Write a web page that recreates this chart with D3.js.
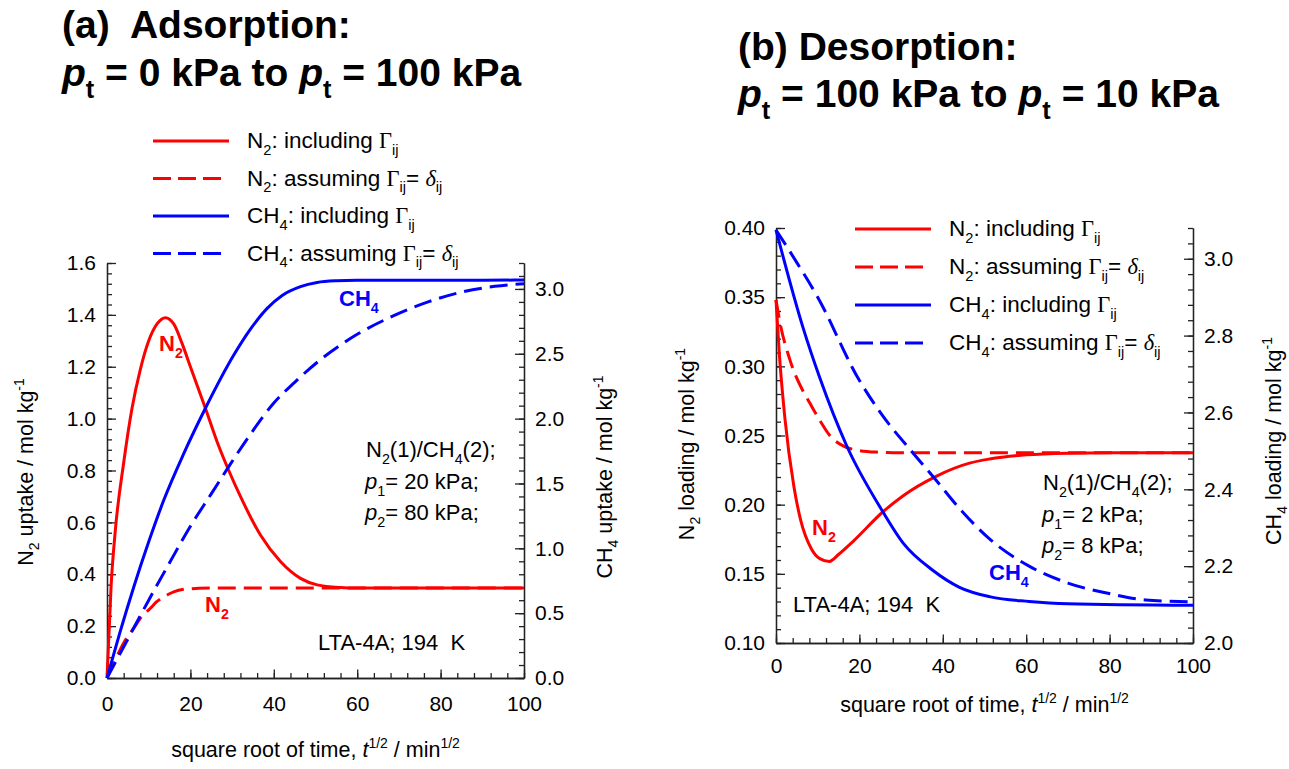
<!DOCTYPE html>
<html>
<head>
<meta charset="utf-8">
<script src="https://cdn.jsdelivr.net/npm/d3@7"></script>
<style>
  body { margin: 0; background: #fff; }
  svg text { font-family: Arial, "Liberation Sans", Helvetica, sans-serif; fill: #000; }
  .axis path, .axis line { stroke: #222; stroke-width: 1.3px; }
  .axis text { font-size: 21px; }
</style>
</head>
<body>
<div id="chart"></div>
<script>
// ---------- (a) adsorption ----------
var n2InclTimeA = [0, 1, 2, 4, 6, 8, 10, 12, 14, 16, 18, 20, 23.6, 26.4, 29.2, 32, 36.8, 41.6, 46.4, 50.4, 56, 60, 100];
var n2InclA     = [0, 0.36, 0.57, 0.83, 1.04, 1.19, 1.3, 1.365, 1.389, 1.365, 1.29, 1.2, 1.04, 0.911, 0.8, 0.7, 0.551, 0.449, 0.384, 0.359, 0.349, 0.347, 0.347];

var n2DeltaTimeA = [0, 2, 4, 6.4, 8, 10.4, 12, 14.4, 16, 18.4, 20, 22, 25, 100];
var n2DeltaA     = [0, 0.07, 0.135, 0.192, 0.23, 0.269, 0.295, 0.32, 0.332, 0.342, 0.344, 0.346, 0.347, 0.347];

var ch4InclTimeA = [0, 3, 6.4, 10, 13.6, 18.4, 23.6, 30.4, 34.4, 38.4, 42, 46.4, 50.4, 55, 60, 100];
var ch4InclA     = [0, 0.34, 0.7, 1.05, 1.37, 1.73, 2.08, 2.49, 2.69, 2.85, 2.95, 3.018, 3.05, 3.063, 3.067, 3.068];

var ch4DeltaTimeA = [0, 5, 10, 15.2, 20, 25, 29.2, 34.4, 40, 45, 51.4, 60, 68.5, 77, 85.6, 93, 100];
var ch4DeltaA     = [0, 0.3, 0.6, 0.9, 1.17, 1.42, 1.63, 1.88, 2.12, 2.28, 2.46, 2.65, 2.79, 2.9, 2.98, 3.02, 3.04];

// ---------- (b) desorption ----------
var n2InclTimeB = [0, 0.8, 2.15, 4.3, 5.9, 8.5, 10.5, 12.8, 15, 18.5, 25.6, 30.5, 38.4, 46.4, 51.2, 60, 70, 80, 100];
var n2InclB     = [0.348, 0.309, 0.262, 0.213, 0.189, 0.168, 0.161, 0.159, 0.164, 0.1735, 0.1947, 0.2065, 0.2205, 0.23, 0.233, 0.236, 0.2372, 0.2375, 0.2375];

var n2DeltaTimeB = [0, 1, 3.3, 6.5, 8, 10.5, 12.9, 16.1, 19.3, 24, 30, 100];
var n2DeltaB     = [0.348, 0.331, 0.305, 0.282, 0.274, 0.261, 0.25, 0.2425, 0.2395, 0.238, 0.2376, 0.2375];

var ch4InclTimeB = [0, 6.5, 10.5, 17, 25.6, 30.5, 37.5, 44, 51.4, 60.7, 70, 100];
var ch4InclB     = [3.075, 2.82, 2.69, 2.512, 2.342, 2.26, 2.19, 2.145, 2.12, 2.108, 2.102, 2.098];

var ch4DeltaTimeB = [0, 5, 10, 19.8, 25, 32.8, 37.9, 44, 51.4, 60.7, 70, 79.3, 88.6, 100];
var ch4DeltaB     = [3.075, 2.99, 2.9, 2.687, 2.6, 2.495, 2.43, 2.35, 2.269, 2.2, 2.156, 2.13, 2.112, 2.107];

// x ticks shared by both panels
var xMajorTicks = [0, 20, 40, 60, 80, 100];

var SERIF = "'Times New Roman', 'Liberation Serif', serif";
var RED = "#ff0000", BLUE = "#0000ff";
var TEXT_SIZE = 22, LEGEND_SIZE = 22.5, TITLE_SIZE = 21.5;

// text with sub/superscripts: parts = [[string, kind], ...]
function richText(parent, x, y, parts, size) {
    var text = parent.append("text")
        .attr("x", x)
        .attr("y", y)
        .attr("font-size", size);
    var shift = 0;
    parts.forEach(function(p){
        var kind = p[1] || "";
        var target = 0;
        if (kind.indexOf("sub") >= 0) target = size * 0.3;
        if (kind.indexOf("sup") >= 0) target = -size * 0.42;
        var span = text.append("tspan").text(p[0]);
        if (target !== shift) span.attr("dy", target - shift);
        if (target !== 0) span.attr("font-size", size * 0.65);
        if (kind.indexOf("it") >= 0) span.attr("font-style", "italic");
        if (kind.indexOf("serif") >= 0) span.attr("font-family", SERIF);
        shift = target;
    });
    return text;
}

function stepTicks(domain, step) {
    var n = Math.floor((domain[1] - domain[0]) / step + 1e-6);
    return d3.range(n + 1).map(function(i){ return domain[0] + i * step; });
}

KineticsChart = function(_svg, _config){
    this.svg = _svg;
    this.config = _config;
    this.initVis();
};

KineticsChart.prototype.initVis = function(){
    var vis = this;
    var c = vis.config;

    vis.g = vis.svg.append("g");

    // Scales
    vis.x = d3.scaleLinear().domain([0, 100]).range([c.left, c.right]);
    vis.yL = d3.scaleLinear().domain(c.yLeft.domain).range([c.bottom, c.top]);
    vis.yR = d3.scaleLinear().domain(c.yRight.domain).range([c.bottom, c.top]);

    // X-axis (minor then major)
    vis.g.append("g")
        .attr("class", "axis")
        .attr("transform", "translate(0," + c.bottom + ")")
        .call(d3.axisBottom(vis.x).tickValues(d3.range(0, 101, 4))
            .tickSize(-5).tickSizeOuter(0).tickFormat(""));
    vis.g.append("g")
        .attr("class", "axis")
        .attr("transform", "translate(0," + c.bottom + ")")
        .call(d3.axisBottom(vis.x).tickValues(xMajorTicks)
            .tickSize(-8.5).tickSizeOuter(0).tickPadding(c.xPad).tickFormat(d3.format("d")));

    // Left y-axis
    vis.g.append("g")
        .attr("class", "axis")
        .attr("transform", "translate(" + c.left + ",0)")
        .call(d3.axisLeft(vis.yL).tickValues(stepTicks(c.yLeft.domain, c.yLeft.minor))
            .tickSize(-5).tickSizeOuter(0).tickFormat(""));
    vis.g.append("g")
        .attr("class", "axis")
        .attr("transform", "translate(" + c.left + ",0)")
        .call(d3.axisLeft(vis.yL).tickValues(stepTicks(c.yLeft.domain, c.yLeft.major))
            .tickSize(-9).tickSizeOuter(0).tickPadding(11).tickFormat(d3.format(c.yLeft.format)));

    // Right y-axis
    vis.g.append("g")
        .attr("class", "axis")
        .attr("transform", "translate(" + c.right + ",0)")
        .call(d3.axisRight(vis.yR).tickValues(stepTicks(c.yRight.domain, c.yRight.minor))
            .tickSize(-5).tickSizeOuter(0).tickFormat(""));
    vis.g.append("g")
        .attr("class", "axis")
        .attr("transform", "translate(" + c.right + ",0)")
        .call(d3.axisRight(vis.yR).tickValues(stepTicks(c.yRight.domain, c.yRight.major))
            .tickSize(-9).tickSizeOuter(0).tickPadding(11).tickFormat(d3.format(c.yRight.format)));

    vis.updateVis();
};

KineticsChart.prototype.updateVis = function(){
    var vis = this;
    var c = vis.config;

    // Curves
    c.series.forEach(function(s){
        var yScale = (s.axis == "right") ? vis.yR : vis.yL;
        var line = d3.line()
            .x(function(d){ return vis.x(d[0]); })
            .y(function(d){ return yScale(d[1]); })
            .curve(d3.curveMonotoneX);
        vis.g.append("path")
            .attr("fill", "none")
            .attr("stroke", s.color)
            .attr("stroke-width", 3)
            .attr("stroke-dasharray", s.dashed ? "18,8" : null)
            .attr("d", line(d3.zip(s.times, s.values)));
    });

    // Legend
    c.series.forEach(function(s, i){
        var ly = c.legend.y + i * c.legend.dy;
        vis.g.append("line")
            .attr("x1", c.legend.x)
            .attr("x2", c.legend.x + (s.dashed ? 68 : 76))
            .attr("y1", ly).attr("y2", ly)
            .attr("stroke", s.color)
            .attr("stroke-width", 3)
            .attr("stroke-dasharray", s.dashed ? "18,7" : null);
        richText(vis.g, c.legend.x + 94, ly + 7, s.label, LEGEND_SIZE);
    });

    // Axis titles
    richText(vis.g, (c.left + c.right) / 2, c.xTitleY, [["square root of time, "], ["t", "it"],
        ["1/2", "sup"], [" / min"], ["1/2", "sup"]], TITLE_SIZE)
        .attr("text-anchor", "middle");
    richText(vis.g, 0, 0, c.yLeftTitle, TITLE_SIZE)
        .attr("text-anchor", "middle")
        .attr("transform", "translate(" + c.yLeftTitlePos + ") rotate(-90)");
    richText(vis.g, 0, 0, c.yRightTitle, TITLE_SIZE)
        .attr("text-anchor", "middle")
        .attr("transform", "translate(" + c.yRightTitlePos + ") rotate(-90)");

    // Panel title
    richText(vis.g, c.titleX, c.titleY[0], c.title[0], 39).attr("font-weight", "bold");
    richText(vis.g, c.titleX, c.titleY[1], c.title[1], 39).attr("font-weight", "bold");

    // Notes and curve labels
    c.notes.forEach(function(n){
        var t = richText(vis.g, n.x, n.y, n.parts, TEXT_SIZE);
        if (n.color) t.attr("font-weight", "bold").style("fill", n.color);
    });
};

function legendLabels(){
    return [
        [["N"], ["2", "sub"], [": including "], ["\u0393", "serif"], ["ij", "sub"]],
        [["N"], ["2", "sub"], [": assuming "], ["\u0393", "serif"], ["ij", "sub"], ["= "], ["\u03b4", "serif it"], ["ij", "sub"]],
        [["CH"], ["4", "sub"], [": including "], ["\u0393", "serif"], ["ij", "sub"]],
        [["CH"], ["4", "sub"], [": assuming "], ["\u0393", "serif"], ["ij", "sub"], ["= "], ["\u03b4", "serif it"], ["ij", "sub"]]
    ];
}

var svg = d3.select("#chart").append("svg")
    .attr("width", 1289)
    .attr("height", 769);

var labs = legendLabels();

var chartA = new KineticsChart(svg, {
    left: 107, right: 524, top: 263, bottom: 678,
    xPad: 18, xTitleY: 757,
    yLeft: { domain: [0, 1.6], major: 0.2, minor: 0.04, format: ".1f" },
    yRight: { domain: [0, 3.2], major: 0.5, minor: 0.1, format: ".1f" },
    yLeftTitle: [["N"], ["2", "sub"], [" uptake / mol kg"], ["-1", "sup"]],
    yLeftTitlePos: "33,472",
    yRightTitle: [["CH"], ["4", "sub"], [" uptake / mol kg"], ["-1", "sup"]],
    yRightTitlePos: "612,477",
    title: [[["(a)\u00a0 Adsorption:"]],
            [["p", "it"], ["t", "sub"], [" = 0 kPa to "], ["p", "it"], ["t", "sub"], [" = 100 kPa"]]],
    titleX: 62, titleY: [38, 86],
    legend: { x: 153, y: 141, dy: 37.5 },
    series: [
        { times: n2InclTimeA, values: n2InclA, axis: "left", color: RED, dashed: false, label: labs[0] },
        { times: n2DeltaTimeA, values: n2DeltaA, axis: "left", color: RED, dashed: true, label: labs[1] },
        { times: ch4InclTimeA, values: ch4InclA, axis: "right", color: BLUE, dashed: false, label: labs[2] },
        { times: ch4DeltaTimeA, values: ch4DeltaA, axis: "right", color: BLUE, dashed: true, label: labs[3] }
    ],
    notes: [
        { x: 366, y: 457, parts: [["N"], ["2", "sub"], ["(1)/CH"], ["4", "sub"], ["(2);"]] },
        { x: 365, y: 489, parts: [["p", "it"], ["1", "sub"], ["= 20 kPa;"]] },
        { x: 365, y: 520, parts: [["p", "it"], ["2", "sub"], ["= 80 kPa;"]] },
        { x: 318, y: 650, parts: [["LTA-4A; 194\u00a0 K"]] },
        { x: 159, y: 351, parts: [["N"], ["2", "sub"]], color: RED },
        { x: 205, y: 612, parts: [["N"], ["2", "sub"]], color: RED },
        { x: 339, y: 306, parts: [["CH"], ["4", "sub"]], color: BLUE }
    ]
});

var chartB = new KineticsChart(svg, {
    left: 776, right: 1193, top: 228, bottom: 643,
    xPad: 15, xTitleY: 712,
    yLeft: { domain: [0.1, 0.4], major: 0.05, minor: 0.01, format: ".2f" },
    yRight: { domain: [2.0, 3.08], major: 0.2, minor: 0.04, format: ".1f" },
    yLeftTitle: [["N"], ["2", "sub"], [" loading / mol kg"], ["-1", "sup"]],
    yLeftTitlePos: "694,444",
    yRightTitle: [["CH"], ["4", "sub"], [" loading / mol kg"], ["-1", "sup"]],
    yRightTitlePos: "1281,441",
    title: [[["(b) Desorption:"]],
            [["p", "it"], ["t", "sub"], [" = 100 kPa to "], ["p", "it"], ["t", "sub"], [" = 10 kPa"]]],
    titleX: 738, titleY: [60, 107],
    legend: { x: 855, y: 229, dy: 38 },
    series: [
        { times: n2InclTimeB, values: n2InclB, axis: "left", color: RED, dashed: false, label: labs[0] },
        { times: n2DeltaTimeB, values: n2DeltaB, axis: "left", color: RED, dashed: true, label: labs[1] },
        { times: ch4InclTimeB, values: ch4InclB, axis: "right", color: BLUE, dashed: false, label: labs[2] },
        { times: ch4DeltaTimeB, values: ch4DeltaB, axis: "right", color: BLUE, dashed: true, label: labs[3] }
    ],
    notes: [
        { x: 1043, y: 490, parts: [["N"], ["2", "sub"], ["(1)/CH"], ["4", "sub"], ["(2);"]] },
        { x: 1042, y: 522, parts: [["p", "it"], ["1", "sub"], ["= 2 kPa;"]] },
        { x: 1042, y: 553, parts: [["p", "it"], ["2", "sub"], ["= 8 kPa;"]] },
        { x: 793, y: 612, parts: [["LTA-4A; 194\u00a0 K"]] },
        { x: 812, y: 535, parts: [["N"], ["2", "sub"]], color: RED },
        { x: 989, y: 580, parts: [["CH"], ["4", "sub"]], color: BLUE }
    ]
});
</script>
</body>
</html>
